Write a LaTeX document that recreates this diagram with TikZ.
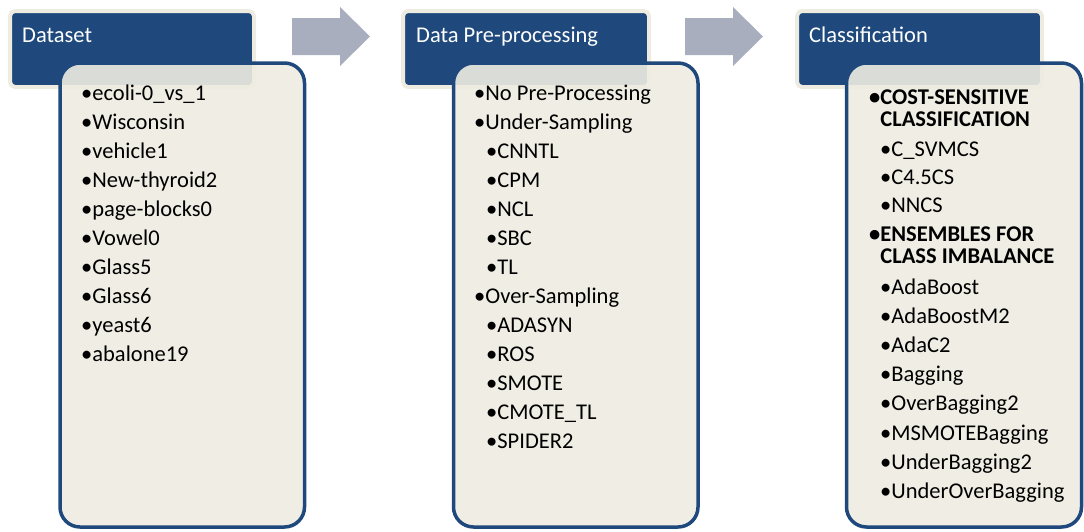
\documentclass[tikz,border=0pt]{standalone}
\usepackage{fontspec}
\setmainfont{Carlito}

\definecolor{hdrblue}{RGB}{31,73,125}
\definecolor{hdrrim}{RGB}{238,236,225}
\definecolor{bodyfill}{RGB}{238,236,225}
\definecolor{arrowgray}{RGB}{168,174,190}

\begin{document}
\begin{tikzpicture}[x=1pt, y=-1pt]
    \tikzset{
        stephead/.style={fill=hdrblue, draw=hdrrim, line width=4pt, rounded corners=5pt},
        stepbody/.style={fill=bodyfill, fill opacity=0.9, draw=hdrblue, line width=3.5pt, rounded corners=20pt},
        steparrow/.style={fill=arrowgray},
        headtext/.style={anchor=base west, inner sep=0pt, text=white, font=\fontsize{22.5}{26}\selectfont},
        item/.style={anchor=base west, inner sep=0pt, font=\fontsize{22.5}{22.5}\selectfont}
    }

    \useasboundingbox (0,0) rectangle (1084,531);

    % Headers
    \draw [stephead] (10,11) rectangle (254,87);
    \draw [stephead] (403,11) rectangle (649,87);
    \draw [stephead] (797,11) rectangle (1042,87);

    \node [headtext] (hdata) at (22,42.5) {Dataset};
    \node [headtext] (hprep) at (416,42.5) {Data Pre-processing};
    \node [headtext] (hclass) at (809,42.5) {Classification};

    % Bodies
    \draw [stepbody] (60,63) rectangle (304.5,527);
    \draw [stepbody] (453.5,63) rectangle (698,527);
    \draw [stepbody] (846.5,63) rectangle (1081.5,527);

    % Block arrows
    \fill [steparrow] (292,18) -- (340,18) -- (340,7) -- (370,36.5) -- (340,66) -- (340,55) -- (292,55) -- cycle;
    \fill [steparrow] (685,18) -- (733,18) -- (733,7) -- (763,36.5) -- (733,66) -- (733,55) -- (685,55) -- cycle;

    % Datasets
    \foreach \name [count=\i from 0] in {ecoli-0\_vs\_1, Wisconsin, vehicle1, New-thyroid2, page-blocks0, Vowel0, Glass5, Glass6, yeast6, abalone19}
        \node [item] (ds\i) at (81,{100+29*\i}) {•\name};

    % Pre-processing
    \foreach \lvl/\name [count=\i from 0] in {1/No Pre-Processing, 1/Under-Sampling, 2/CNNTL, 2/CPM, 2/NCL, 2/SBC, 2/TL, 1/Over-Sampling, 2/ADASYN, 2/ROS, 2/SMOTE, 2/CMOTE\_TL, 2/SPIDER2}
        \node [item] (pp\i) at ({462+12*\lvl},{100+29*\i}) {•\name};

    % Classifiers
    \node [item] (costsens) at (869,104) {\bfseries\begin{tabular}[t]{@{}l@{}}•COST-SENSITIVE\\\hphantom{•}CLASSIFICATION\end{tabular}};
    \node [item] (ensembles) at (869,241) {\bfseries\begin{tabular}[t]{@{}l@{}}•ENSEMBLES FOR\\\hphantom{•}CLASS IMBALANCE\end{tabular}};

    \foreach \yy/\name [count=\i] in {156/C\_SVMCS, 184/C4.5CS, 212/NNCS, 294/AdaBoost, 323/AdaBoostM2, 352/AdaC2, 381/Bagging, 410/OverBagging2, 440/MSMOTEBagging, 469/UnderBagging2, 498/UnderOverBagging}
        \node [item] (cl\i) at (880,\yy) {•\name};

\end{tikzpicture}
\end{document}
